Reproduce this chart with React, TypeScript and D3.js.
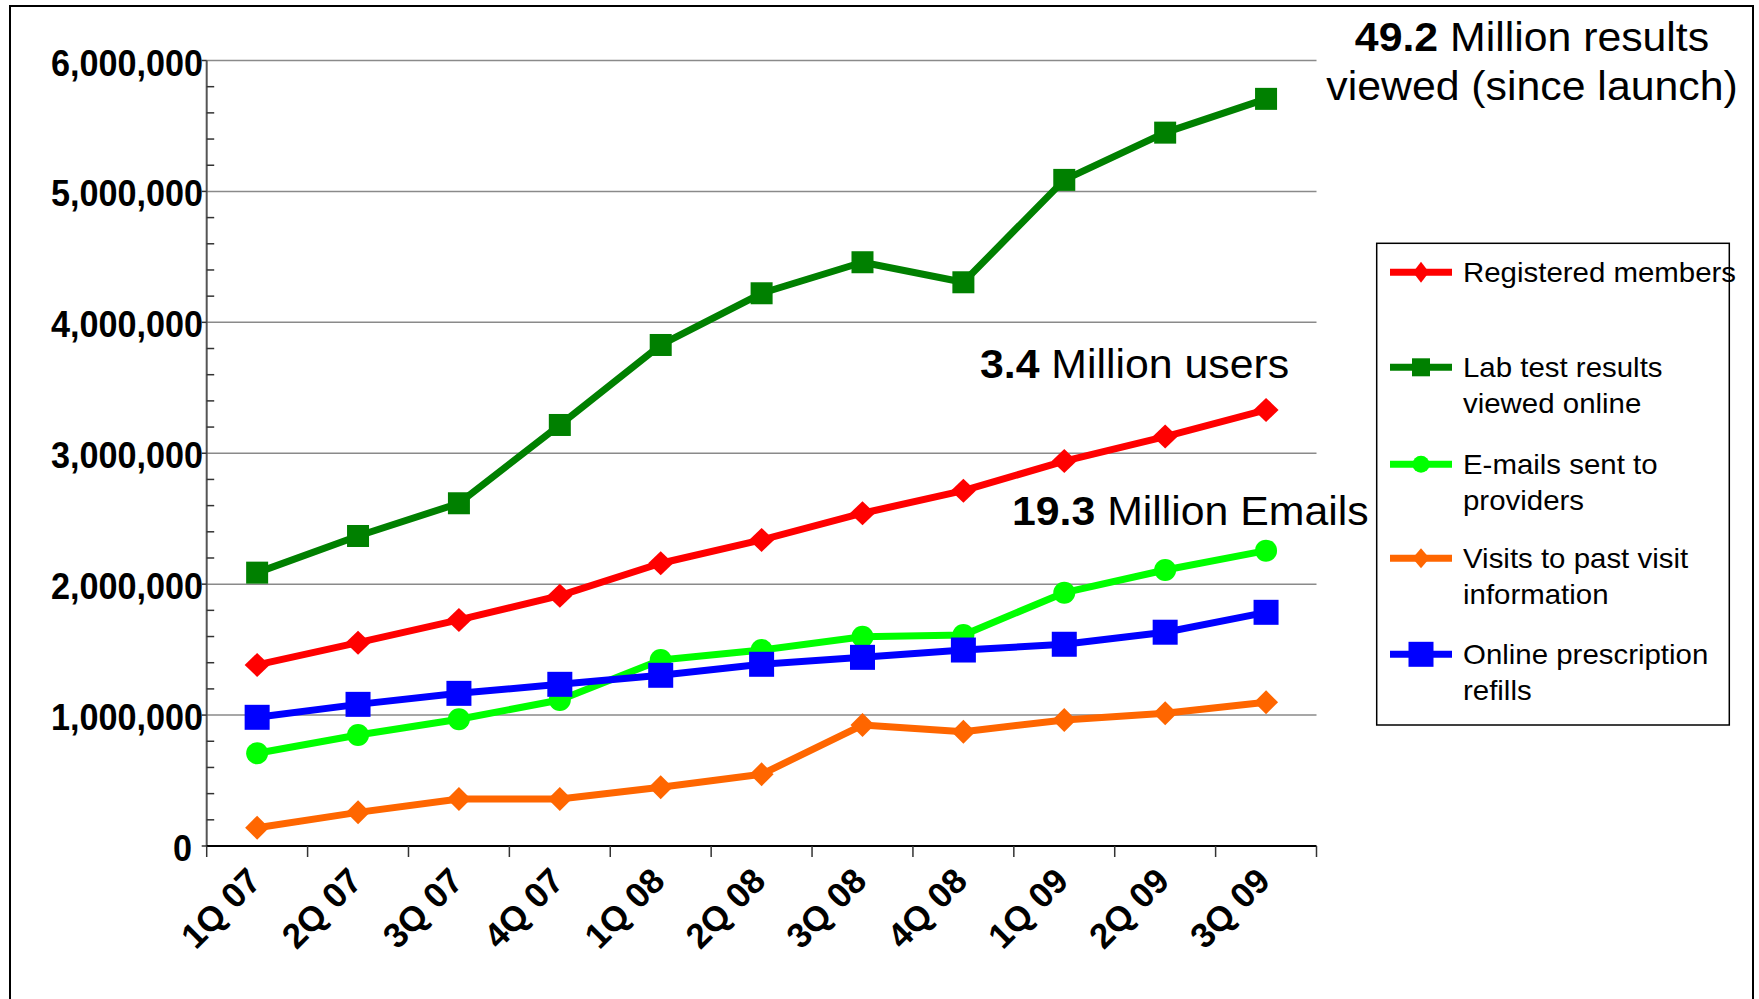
import React from "react";
import * as d3 from "d3";

const categories = ["1Q 07", "2Q 07", "3Q 07", "4Q 07", "1Q 08", "2Q 08", "3Q 08", "4Q 08", "1Q 09", "2Q 09", "3Q 09"];
const registered = [1383000, 1553000, 1727000, 1912000, 2160000, 2338000, 2542000, 2714000, 2940000, 3127000, 3331000];
const labResults = [2088000, 2368000, 2618000, 3216000, 3827000, 4222000, 4459000, 4306000, 5088000, 5449000, 5707000];
const emails = [708000, 848000, 968000, 1115000, 1421000, 1497000, 1599000, 1612000, 1935000, 2108000, 2256000];
const visits = [140000, 257000, 359000, 359000, 448000, 548000, 924000, 873000, 963000, 1014000, 1098000];
const refills = [983000, 1082000, 1166000, 1235000, 1304000, 1388000, 1441000, 1497000, 1541000, 1633000, 1785000];
const yTicks = [0, 1000000, 2000000, 3000000, 4000000, 5000000, 6000000];

const seriesNames = [
  ["Registered members"],
  ["Lab test results", "viewed online"],
  ["E-mails sent to", "providers"],
  ["Visits to past visit", "information"],
  ["Online prescription", "refills"],
];

type Shape = "diamond" | "square" | "circle";
const series: { name: string[]; values: number[]; color: string; shape: Shape; size: [number, number]; legendSize: [number, number] }[] = [
  { name: seriesNames[0], values: registered, color: "#ff0000", shape: "diamond", size: [25, 24], legendSize: [16, 21] },
  { name: seriesNames[1], values: labResults, color: "#008000", shape: "square", size: [22, 22], legendSize: [18, 18] },
  { name: seriesNames[2], values: emails, color: "#00ff00", shape: "circle", size: [22, 22], legendSize: [17, 17] },
  { name: seriesNames[3], values: visits, color: "#ff6600", shape: "diamond", size: [24, 24], legendSize: [17, 20] },
  { name: seriesNames[4], values: refills, color: "#0000ff", shape: "square", size: [25, 25], legendSize: [25, 25] },
];

const FONT = "'Liberation Sans', Arial, Helvetica, sans-serif";

function Marker({ shape, cx, cy, w, h, color }: { shape: Shape; cx: number; cy: number; w: number; h: number; color: string }) {
  if (shape === "square") return <rect x={cx - w / 2} y={cy - h / 2} width={w} height={h} fill={color} />;
  if (shape === "circle") return <ellipse cx={cx} cy={cy} rx={w / 2} ry={h / 2} fill={color} />;
  const p = `M${cx},${cy - h / 2}L${cx + w / 2},${cy}L${cx},${cy + h / 2}L${cx - w / 2},${cy}Z`;
  return <path d={p} fill={color} />;
}

export default function App() {
  const W = 1759, H = 999;
  const left = 206.7, right = 1316.5, top = 60.5, bottom = 846;
  const x = d3.scaleBand<string>().domain(categories).range([left, right]).padding(0);
  const y = d3.scaleLinear().domain([0, 6000000]).range([bottom, top]);
  const bw = x.bandwidth();
  const cx = (c: string) => (x(c) as number) + bw / 2;
  const fmt = d3.format(",");
  const minor = d3.range(0, 6000001, 200000).filter((v) => v % 1000000 !== 0);
  const boundaries = categories.map((c) => x(c) as number).concat([right]);
  const line = d3.line<number>().x((_, i) => cx(categories[i])).y((v) => y(v));

  const legendX0 = 1390, legendX1 = 1452, legendMid = 1421;
  const legendY = [272.3, 367.3, 464.3, 558.3, 654.3];

  return (
    <svg width={W} height={H} style={{ position: "absolute", left: 0, top: 0, background: "#fff" }} fontFamily={FONT}>
      <rect x={0} y={0} width={W} height={H} fill="#fff" />
      <rect x={10} y={6} width={1743} height={1010} fill="none" stroke="#000" strokeWidth={2} />

      {/* gridlines */}
      {yTicks.filter((v) => v > 0).map((v) => (
        <line key={v} x1={left} x2={right} y1={y(v)} y2={y(v)} stroke="#8a8a8a" strokeWidth={1.5} />
      ))}
      {/* y axis */}
      <line x1={left} x2={left} y1={top} y2={bottom} stroke="#555" strokeWidth={2} />
      {minor.map((v) => (
        <line key={v} x1={left} x2={left + 7.5} y1={y(v)} y2={y(v)} stroke="#333" strokeWidth={1.5} />
      ))}
      {yTicks.map((v) => (
        <line key={v} x1={left - 5} x2={left} y1={y(v)} y2={y(v)} stroke="#333" strokeWidth={1.5} />
      ))}
      {yTicks.map((v) => (
        <text key={v} transform={`translate(${v === 0 ? 192 : 203},${y(v) + 15}) scale(0.95,1.03)`} textAnchor="end"
          fontSize={36} fontWeight="bold" fill="#000">{fmt(v)}</text>
      ))}
      {/* x axis */}
      <line x1={left} x2={right} y1={bottom} y2={bottom} stroke="#000" strokeWidth={2} />
      {boundaries.map((b, i) => (
        <line key={i} x1={b} x2={b} y1={bottom} y2={bottom + 11} stroke="#333" strokeWidth={1.5} />
      ))}
      {categories.map((c) => (
        <text key={c} transform={`translate(${cx(c) + 6},${bottom + 37}) rotate(-45)`} textAnchor="end"
          fontSize={35} fontWeight="bold" fill="#000">{c}</text>
      ))}

      {/* series */}
      {series.map((s) => (
        <g key={s.name[0]}>
          <path d={line(s.values) as string} fill="none" stroke={s.color} strokeWidth={7} strokeLinejoin="round" />
          {s.values.map((v, i) => (
            <Marker key={i} shape={s.shape} cx={cx(categories[i])} cy={y(v)} w={s.size[0]} h={s.size[1]} color={s.color} />
          ))}
        </g>
      ))}

      {/* annotations */}
      <text transform="translate(1532,51) scale(1.07,1)" textAnchor="middle" fontSize={40} fill="#000">
        <tspan fontWeight="bold">49.2</tspan> Million results
      </text>
      <text transform="translate(1532,100) scale(1.07,1)" textAnchor="middle" fontSize={40} fill="#000">viewed (since launch)</text>
      <text transform="translate(980,378) scale(1.07,1)" fontSize={40} fill="#000">
        <tspan fontWeight="bold">3.4</tspan> Million users
      </text>
      <text transform="translate(1012,525) scale(1.07,1)" fontSize={40} fill="#000">
        <tspan fontWeight="bold">19.3</tspan> Million Emails
      </text>

      {/* legend */}
      <rect x={1376.7} y={243.3} width={352.6} height={481.7} fill="#fff" stroke="#000" strokeWidth={1.5} />
      {series.map((s, k) => (
        <g key={s.name[0]}>
          <line x1={legendX0} x2={legendX1} y1={legendY[k]} y2={legendY[k]} stroke={s.color} strokeWidth={7} />
          <Marker shape={s.shape} cx={legendMid} cy={legendY[k]} w={s.legendSize[0]} h={s.legendSize[1]} color={s.color} />
          {s.name.map((t, j) => (
            <text key={j} transform={`translate(1463,${legendY[k] + 10 + j * 35.7}) scale(1.09,1)`} fontSize={27} fill="#000">{t}</text>
          ))}
        </g>
      ))}
    </svg>
  );
}
